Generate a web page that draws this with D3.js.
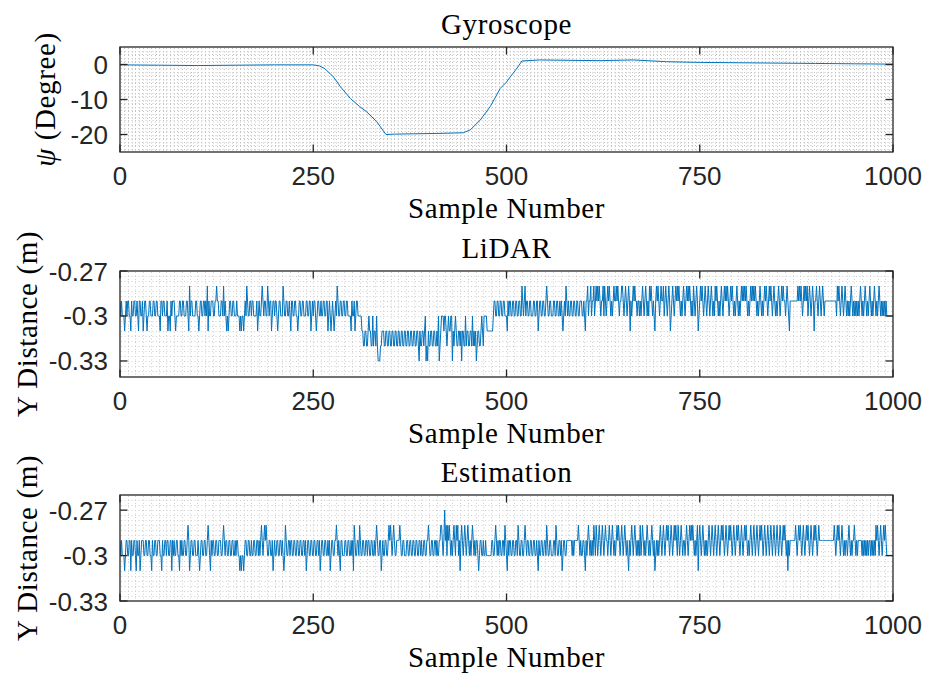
<!DOCTYPE html>
<html><head><meta charset="utf-8">
<script src="https://cdn.jsdelivr.net/npm/d3@7"></script>
<style>body{margin:0;background:#fff}</style>
</head><body><svg id="c" width="926" height="678"></svg>
<script>
const xTicks=[0,250,500,750,1000];
const xTickLabels=["0","250","500","750","1000"];
const gyroTicks=[0,-10,-20];
const gyroTickLabels=["0","-10","-20"];
const distTicks=[-0.27,-0.3,-0.33];
const distTickLabels=["-0.27","-0.3","-0.33"];
const titles=["Gyroscope","LiDAR","Estimation"];
const xLabel="Sample Number";

const gyroSample=[0,50,100,150,200,250,258,265,276,285,298,310,319,332,344,355,380,410,444,453,466,479,492,500,505,512,520,543,580,621,664,707,750,800,850,900,950,1000];
const gyroValue=[-0.1,-0.2,-0.3,-0.2,-0.1,-0.1,-0.4,-1.2,-3.5,-6.3,-9.7,-12.0,-13.5,-16.3,-20.0,-19.9,-19.8,-19.7,-19.5,-18.7,-15.9,-12.0,-6.8,-5.0,-3.5,-1.5,1.0,1.3,1.2,1.1,1.3,0.8,0.6,0.5,0.4,0.3,0.2,0.1];

// level codes: 1=-0.33, 2=-0.32, 3=-0.31, 4=-0.30, 5=-0.29, 6=-0.28, 7=-0.27
const levelValues=[-0.34,-0.33,-0.32,-0.31,-0.30,-0.29,-0.28,-0.27];
const lidarCodes=[
"5454443454"+"5544354455"+"4454355445"+"3455434455"+"4445544554"+"4435545544"+"4534435455"+"5434444554"+"4554445543"+"6455444455",
"4434554455"+"4546354455"+"5445565544"+"4554645434"+"3455445544"+"4544434344"+"3454654455"+"4554444534"+"5445654554"+"4654553455",
"4554345544"+"4654455445"+"4355445544"+"3455445544"+"4554455345"+"4554345544"+"5445544553"+"4543454345"+"4654455445"+"5445544443",
"5445345544"+"4443322332"+"2343322423"+"3242111223"+"3322332233"+"2233223322"+"3322332233"+"2233223322"+"3322332132"+"2332341213",
"2233223322"+"3241234443"+"4432343344"+"1323432233"+"2313322423"+"3223324232"+"3123322343"+"2444433333"+"3334554455"+"4455445544",
"4354554455"+"4455445544"+"6545645544"+"5544455445"+"5345544554"+"4565445544"+"4554455445"+"4543454654"+"5445544554"+"4554455544",
"5435564556"+"4556456565"+"6545564654"+"5656545456"+"5565654556"+"6545654565"+"3545656554"+"5545456545"+"6545465654"+"5435656545",
"6556456545"+"6534565456"+"5656545456"+"5456565654"+"5465456534"+"5656545654"+"5654565454"+"6565454565"+"4565656545"+"6565454565",
"4545656565"+"6545456565"+"6565454565"+"4545656545"+"6565456545"+"4565456565"+"5456543555"+"5555555656"+"5654565656"+"4565456535",
"5654565456"+"5455555555"+"5555555465"+"6545654565"+"4545456545"+"4545454565"+"4545654545"+"6545456545"+"4565454545"+"4544444444",
"4"].join("");
const estCodes=[
"5454443455"+"4455354455"+"4354453455"+"5445544554"+"4354455445"+"5544354455"+"4554455354"+"5445544354"+"5445544565"+"3455445544",
"4543455445"+"5445654354"+"5544554455"+"5445654554"+"4554455445"+"4554434344"+"3455445544"+"5445544554"+"5456545656"+"5445544534",
"5445544554"+"5434654455"+"4554455445"+"5445544554"+"5345544554"+"4554455453"+"4554455445"+"4534554455"+"6545435544"+"4554455445",
"4536544554"+"6544554455"+"4554455445"+"4565445534"+"5445544565"+"6545654455"+"5565445544"+"4554455445"+"5445544554"+"5445544556",
"5445544554"+"5445566545"+"7564656545"+"4565465645"+"3565456545"+"6545456545"+"4554345544"+"5445444444"+"4554456545"+"4554455465",
"4354554455"+"4455465445"+"5445654554"+"4554455445"+"4354455445"+"5465445544"+"4554654455"+"4534554455"+"5555545455"+"5556545445",
"5435456545"+"4546546545"+"6545654565"+"5456545654"+"5456565456"+"5456545435"+"4565456545"+"4546456545"+"4565454565"+"4534545456",
"5456545656"+"5456545656"+"5465456545"+"5456545656"+"5654545635"+"6545654545"+"4565456545"+"6545654565"+"6545654565"+"6545654565",
"6545654565"+"6545456545"+"6545654565"+"6545654565"+"4565456545"+"6545654565"+"6545354555"+"5555654565"+"6545654565"+"6545654565",
"6545655555"+"5555555555"+"5555654565"+"6545654545"+"5456545455"+"6545455555"+"4545454545"+"5454545465"+"6545654565"+"6544444444",
"4"].join("");

const lidarValues=Array.from(lidarCodes,c=>levelValues[+c]);
const estValues=Array.from(estCodes,c=>levelValues[+c]);

const svg=d3.select("#c");
const L=120,R=893;
const ink="#262626", blue="#0072BD";
const serif="'Liberation Serif','Times New Roman',serif";
const sans="'Liberation Sans',Arial,sans-serif";
const x=d3.scaleLinear().domain([0,1000]).range([L,R]);

const panels=[
 {top:47,bottom:152,dom:[-25,5],ticks:gyroTicks,labels:gyroTickLabels,minor:1,vminor:5,gridColor:"#c2c2c2",
  data:gyroSample.map((s,i)=>[s,gyroValue[i]]),ylab:"gyro",title:titles[0]},
 {top:271,bottom:377,dom:[-0.3407,-0.27],ticks:distTicks,labels:distTickLabels,minor:0.01/3,vminor:10,gridColor:"#cfcfcf",
  data:lidarValues.map((v,i)=>[i,v]),ylab:"Y Distance (m)",title:titles[1]},
 {top:495,bottom:601,dom:[-0.33,-0.26],ticks:distTicks,labels:distTickLabels,minor:0.01/3,vminor:10,gridColor:"#cfcfcf",
  data:estValues.map((v,i)=>[i,v]),ylab:"Y Distance (m)",title:titles[2]}
];

panels.forEach((p,pi)=>{
  const y=d3.scaleLinear().domain(p.dom).range([p.bottom,p.top]);
  const g=svg.append("g");
  const grid=g.append("g").attr("stroke",p.gridColor).attr("stroke-width",1).attr("stroke-dasharray","1 2.5").attr("fill","none");
  for(let s=p.vminor;s<1000-0.01;s+=p.vminor){
    const xx=Math.round(x(s))+0.5;
    grid.append("line").attr("x1",xx).attr("x2",xx).attr("y1",p.top+1).attr("y2",p.bottom);
  }
  const start=Math.ceil(p.dom[0]/p.minor-1e-6);
  for(let k=start;k*p.minor<p.dom[1]-1e-9;k++){
    const yy=Math.round(y(k*p.minor))+0.5;
    if(yy<=p.top+1||yy>=p.bottom-1) continue;
    grid.append("line").attr("x1",L+1).attr("x2",R).attr("y1",yy).attr("y2",yy);
  }
  const cid="clip"+pi;
  svg.append("clipPath").attr("id",cid).append("rect").attr("x",L).attr("y",p.top).attr("width",R-L).attr("height",p.bottom-p.top);
  const line=d3.line().x(d=>x(d[0])).y(d=>y(d[1]));
  g.append("path").datum(p.data).attr("d",line).attr("fill","none").attr("stroke",blue).attr("stroke-width",1).attr("clip-path",`url(#${cid})`);
  g.append("rect").attr("x",L).attr("y",p.top).attr("width",R-L).attr("height",p.bottom-p.top).attr("fill","none").attr("stroke",ink).attr("stroke-width",1.3);
  const tl=7.5;
  xTicks.forEach((t,i)=>{
    const xx=x(t);
    g.append("line").attr("x1",xx).attr("x2",xx).attr("y1",p.bottom).attr("y2",p.bottom-tl).attr("stroke",ink).attr("stroke-width",1.3);
    g.append("line").attr("x1",xx).attr("x2",xx).attr("y1",p.top).attr("y2",p.top+tl).attr("stroke",ink).attr("stroke-width",1.3);
    g.append("text").attr("x",xx).attr("y",p.bottom+33).attr("text-anchor","middle").attr("font-family",sans).attr("font-size",26).attr("fill",ink).text(xTickLabels[i]);
  });
  p.ticks.forEach((t,i)=>{
    const yy=y(t);
    g.append("line").attr("x1",L).attr("x2",L+tl).attr("y1",yy).attr("y2",yy).attr("stroke",ink).attr("stroke-width",1.3);
    g.append("line").attr("x1",R).attr("x2",R-tl).attr("y1",yy).attr("y2",yy).attr("stroke",ink).attr("stroke-width",1.3);
    g.append("text").attr("x",L-12).attr("y",yy+9.5).attr("text-anchor","end").attr("font-family",sans).attr("font-size",26).attr("fill",ink).text(p.labels[i]);
  });
  g.append("text").attr("x",(L+R)/2).attr("y",p.top-13).attr("text-anchor","middle").attr("font-family",serif).attr("font-size",29).attr("letter-spacing",0.6).attr("fill","#000").text(p.title);
  g.append("text").attr("x",(L+R)/2).attr("y",p.bottom+66).attr("text-anchor","middle").attr("font-family",serif).attr("font-size",29).attr("letter-spacing",0.6).attr("fill","#000").text(xLabel);
  const cy=(p.top+p.bottom)/2;
  if(p.ylab==="gyro"){
    const t=g.append("text").attr("transform",`translate(55,${cy}) rotate(-90)`).attr("text-anchor","middle").attr("font-family",serif).attr("font-size",29).attr("letter-spacing",0.6).attr("fill","#000");
    t.append("tspan").attr("font-style","italic").text("ψ");
    t.append("tspan").text(" (Degree)");
  } else {
    g.append("text").attr("transform",`translate(37,${cy}) rotate(-90)`).attr("text-anchor","middle").attr("font-family",serif).attr("font-size",29).attr("letter-spacing",0.6).attr("fill","#000").text(p.ylab);
  }
});
</script></body></html>
